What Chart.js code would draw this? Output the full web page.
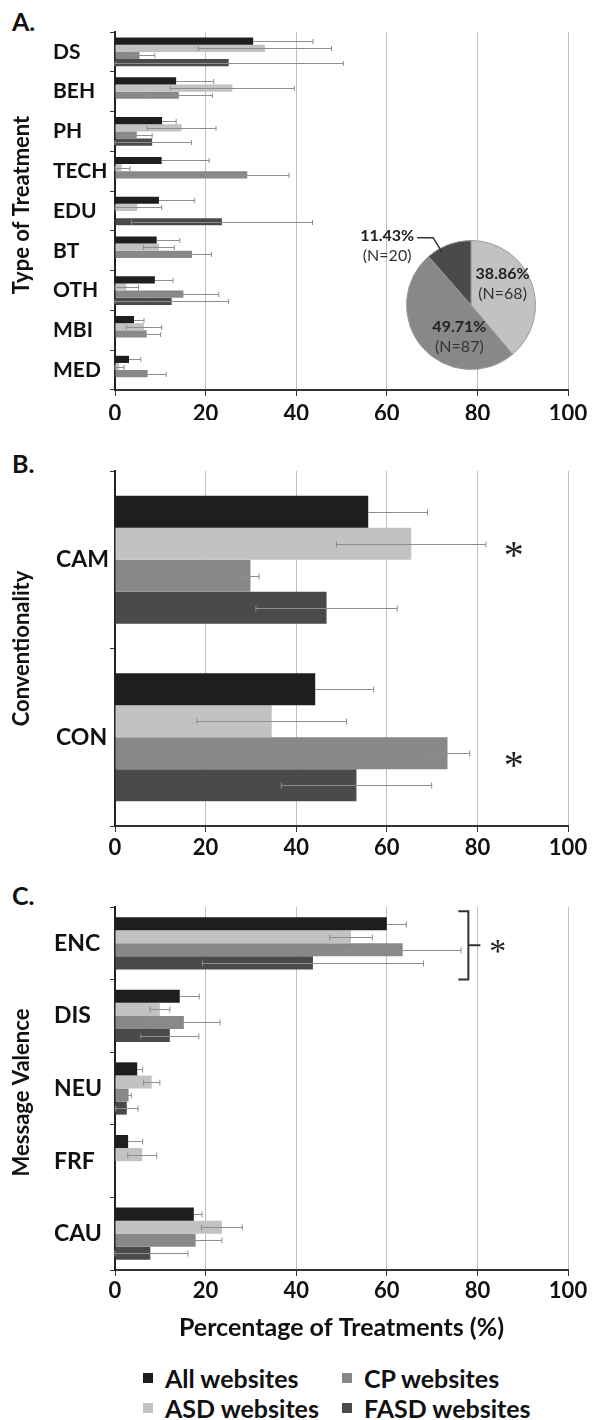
<!DOCTYPE html>
<html>
<head>
<meta charset="utf-8">
<script src="https://cdn.jsdelivr.net/npm/chart.js@4.4.1/dist/chart.umd.min.js"></script>
<style>
  body { margin: 0; background: #fff; width: 600px; height: 1420px; position: relative; overflow: hidden; font-family: Lato, sans-serif; color: #111; }
  .box { position: absolute; left: 0; width: 600px; }
  .letter { position: absolute; left: 12px; font-weight: bold; font-size: 25px; line-height: 1; }
  #legend { position: absolute; left: 143px; top: 1363px; display: grid; grid-template-rows: 30px 30px; grid-auto-flow: column; grid-auto-columns: 199px; font-weight: bold; font-size: 25px; }
  #legend div { display: flex; align-items: center; white-space: nowrap; }
  #legend span { display: inline-block; width: 10px; height: 10px; margin-right: 12px; }
</style>
</head>
<body>
<div class="letter" style="top:9px">A.</div>
<div class="letter" style="top:451px">B.</div>
<div class="letter" style="top:883px">C.</div>

<div class="box" style="top:0;height:440px"><canvas id="chartA"></canvas></div>
<div class="box" style="top:440px;height:420px"><canvas id="chartB"></canvas></div>
<div class="box" style="top:860px;height:500px"><canvas id="chartC"></canvas></div>
<div style="position:absolute;left:340px;top:215px;width:220px;height:180px"><canvas id="pieA"></canvas></div>
<div id="legend"></div>

<script>
// series
const seriesNames = ['All websites', 'ASD websites', 'CP websites', 'FASD websites'];
const seriesColors = ['#1e1e1e', '#c2c2c2', '#888888', '#4a4a4a'];

// panel A - type of treatment
const treatTypes = ['DS', 'BEH', 'PH', 'TECH', 'EDU', 'BT', 'OTH', 'MBI', 'MED'];
const treatAll = [30.5, 13.5, 10.4, 10.3, 9.7, 9.2, 8.8, 4.2, 3.1];
const treatAsd = [33.1, 25.9, 14.7, 1.5, 4.9, 9.7, 2.5, 6.4, 0.9];
const treatCp = [5.4, 14.1, 4.8, 29.2, 0, 17.0, 15.1, 7.0, 7.2];
const treatFasd = [25.1, 0, 8.2, 0, 23.6, 0, 12.5, 0, 0];
const treatAllErr = [13.2, 8.3, 3.1, 10.5, 7.9, 5.1, 4.0, 2.2, 2.6];
const treatAsdErr = [14.7, 13.7, 7.6, 1.8, 5.4, 3.4, 2.7, 3.9, 1.1];
const treatCpErr = [3.4, 7.4, 3.4, 9.2, 0, 4.3, 7.8, 3.1, 4.1];
const treatFasdErr = [25.3, 0, 8.7, 0, 20.0, 0, 12.6, 0, 0];

// panel A inset pie - websites by condition
const pieLabels = ['ASD websites', 'CP websites', 'FASD websites'];
const piePct = [38.86, 49.71, 11.43];
const pieN = [68, 87, 20];

// panel B - conventionality
const convTypes = ['CAM', 'CON'];
const convAll = [55.9, 44.2];
const convAsd = [65.4, 34.6];
const convCp = [29.9, 73.4];
const convFasd = [46.7, 53.3];
const convAllErr = [13.1, 12.9];
const convAsdErr = [16.5, 16.5];
const convCpErr = [1.9, 4.9];
const convFasdErr = [15.6, 16.6];

// panel C - message valence
const valTypes = ['ENC', 'DIS', 'NEU', 'FRF', 'CAU'];
const valAll = [60.0, 14.3, 4.9, 2.9, 17.4];
const valAsd = [52.1, 9.9, 8.1, 6.0, 23.6];
const valCp = [63.5, 15.2, 3.0, 0, 17.8];
const valFasd = [43.7, 12.1, 2.6, 0, 7.8];
const valAllErr = [4.3, 4.3, 1.2, 3.2, 1.8];
const valAsdErr = [4.7, 2.2, 1.8, 3.2, 4.5];
const valCpErr = [12.9, 8.0, 0.6, 0, 5.8];
const valFasdErr = [24.4, 6.4, 2.5, 0, 8.3];

const xTicks = [0, 20, 40, 60, 80, 100];

Chart.defaults.font.family = 'Lato';
Chart.defaults.color = '#111';

// draws error bars from each dataset's "errors" array
const errorBars = {
    id: 'errorBars',
    afterDatasetsDraw(chart, args, opts) {
        const ctx = chart.ctx;
        const xs = chart.scales.x;
        const cap = opts.cap || 3;
        ctx.save();
        ctx.strokeStyle = '#8e8e8e';
        ctx.lineWidth = 1;
        chart.data.datasets.forEach((ds, i) => {
            if (!ds.errors) return;
            chart.getDatasetMeta(i).data.forEach((bar, j) => {
                const v = ds.data[j];
                const e = ds.errors[j];
                if (!v || !e) return;
                const lo = ds.plusOnly ? v : Math.max(v - e, 0);
                const x0 = xs.getPixelForValue(lo);
                const x1 = xs.getPixelForValue(v + e);
                const y = Math.round(bar.y) + 0.5;
                ctx.beginPath();
                ctx.moveTo(x0, y);
                ctx.lineTo(x1, y);
                ctx.moveTo(x1, y - cap);
                ctx.lineTo(x1, y + cap);
                if (!ds.plusOnly) {
                    ctx.moveTo(x0, y - cap);
                    ctx.lineTo(x0, y + cap);
                }
                ctx.stroke();
            });
        });
        ctx.restore();
    }
};

// rotated axis title at the left edge
const sideTitle = {
    id: 'sideTitle',
    afterDraw(chart, args, opts) {
        if (!opts.text) return;
        const ctx = chart.ctx;
        const a = chart.chartArea;
        ctx.save();
        ctx.translate(opts.x, (a.top + a.bottom) / 2 + (opts.shift || 0));
        ctx.rotate(-Math.PI / 2);
        ctx.font = 'bold ' + opts.size + 'px Lato';
        ctx.fillStyle = '#111';
        ctx.textAlign = 'center';
        ctx.textBaseline = 'middle';
        ctx.fillText(opts.text, 0, 0);
        ctx.restore();
    }
};

// significance asterisks / bracket
const signif = {
    id: 'signif',
    afterDraw(chart, args, opts) {
        if (!opts.marks) return;
        const ctx = chart.ctx;
        const xs = chart.scales.x;
        ctx.save();
        ctx.fillStyle = '#222';
        ctx.strokeStyle = '#333';
        ctx.textAlign = 'center';
        ctx.textBaseline = 'middle';
        opts.marks.forEach(m => {
            if (m.bracket) {
                const bars = chart.data.datasets.map((d, i) => chart.getDatasetMeta(i).data[m.index]);
                const top = bars[0].y - bars[0].height / 2 - 6;
                const bot = bars[bars.length - 1].y + bars[bars.length - 1].height / 2 + 10;
                const bx = xs.getPixelForValue(m.bracket);
                const mid = (top + bot) / 2;
                ctx.lineWidth = 2;
                ctx.beginPath();
                ctx.moveTo(bx - 10, top);
                ctx.lineTo(bx, top);
                ctx.lineTo(bx, bot);
                ctx.lineTo(bx - 10, bot);
                ctx.moveTo(bx, mid);
                ctx.lineTo(bx + 12, mid);
                ctx.stroke();
                ctx.font = '34px "Liberation Serif"';
                ctx.fillText('*', xs.getPixelForValue(m.x), mid + 8);
            } else {
                const bar = chart.getDatasetMeta(m.series).data[m.index];
                ctx.font = '40px "Liberation Serif"';
                ctx.fillText('*', xs.getPixelForValue(m.x), bar.y + 14);
            }
        });
        ctx.restore();
    }
};

function makeDatasets(vals, errs) {
    return vals.map((v, i) => ({
        label: seriesNames[i],
        data: v,
        errors: errs[i],
        plusOnly: i === 0,
        backgroundColor: seriesColors[i],
        borderWidth: 0,
        categoryPercentage: 0.72,
        barPercentage: 1.0
    }));
}

function barOptions(cfg) {
    return {
        indexAxis: 'y',
        responsive: true,
        maintainAspectRatio: false,
        animation: false,
        layout: { padding: cfg.padding },
        plugins: {
            legend: { display: false },
            tooltip: { enabled: false },
            errorBars: { cap: cfg.cap },
            sideTitle: { text: cfg.yTitle, x: 22, size: 22, shift: cfg.titleShift || 0 },
            signif: { marks: cfg.marks }
        },
        scales: {
            x: {
                min: 0,
                max: 100,
                afterBuildTicks(scale) { scale.ticks = xTicks.map(v => ({ value: v })); },
                afterFit(scale) { scale.height = cfg.xHeight; },
                grid: { color: '#c0c0c0', tickColor: '#333', tickLength: 6 },
                border: { color: '#333', width: 2 },
                ticks: { font: { size: 22, weight: 'bold' }, color: '#111', padding: cfg.tickPad, maxRotation: 0 },
                title: cfg.xTitle ? {
                    display: true,
                    text: cfg.xTitle,
                    font: { size: 25, weight: 'bold' },
                    color: '#111',
                    padding: { top: 6, bottom: 7 }
                } : { display: false }
            },
            y: {
                afterFit(scale) { scale.width = 115 - cfg.padding.left; },
                grid: { drawOnChartArea: false, color: '#333', tickLength: 5, offset: true },
                border: { color: '#222', width: 2 },
                ticks: { font: { size: cfg.labelSize, weight: 'bold' }, color: '#111', crossAlign: 'far', padding: 4 }
            }
        }
    };
}

new Chart(document.getElementById('chartA'), {
    type: 'bar',
    data: {
        labels: treatTypes,
        datasets: makeDatasets([treatAll, treatAsd, treatCp, treatFasd],
            [treatAllErr, treatAsdErr, treatCpErr, treatFasdErr])
    },
    options: barOptions({
        padding: { top: 32, bottom: 20, left: 53, right: 32 },
        xHeight: 30, labelSize: 21, cap: 2.5, tickPad: 5,
        yTitle: 'Type of Treatment', titleShift: -6
    }),
    plugins: [errorBars, sideTitle, signif]
});

new Chart(document.getElementById('chartB'), {
    type: 'bar',
    data: {
        labels: convTypes,
        datasets: makeDatasets([convAll, convAsd, convCp, convFasd],
            [convAllErr, convAsdErr, convCpErr, convFasdErr])
    },
    options: barOptions({
        padding: { top: 31, bottom: 4, left: 56, right: 32 },
        xHeight: 30, labelSize: 23, cap: 3, tickPad: 3,
        yTitle: 'Conventionality',
        marks: [{ series: 1, index: 0, x: 88 }, { series: 2, index: 1, x: 88 }]
    }),
    plugins: [errorBars, sideTitle, signif]
});

new Chart(document.getElementById('chartC'), {
    type: 'bar',
    data: {
        labels: valTypes,
        datasets: makeDatasets([valAll, valAsd, valCp, valFasd],
            [valAllErr, valAsdErr, valCpErr, valFasdErr])
    },
    options: barOptions({
        padding: { top: 47, bottom: 10, left: 54, right: 32 },
        xHeight: 80, labelSize: 23, cap: 3, tickPad: 2,
        yTitle: 'Message Valence', titleShift: 4,
        xTitle: 'Percentage of Treatments (%)',
        marks: [{ index: 0, bracket: 78, x: 84.5 }]
    }),
    plugins: [errorBars, sideTitle, signif]
});

// labels of the inset pie, positions relative to the pie centre in radius units
const pieText = {
    id: 'pieText',
    afterDraw(chart, args, opts) {
        const ctx = chart.ctx;
        const arcs = chart.getDatasetMeta(0).data;
        ctx.save();
        ctx.textAlign = 'center';
        ctx.textBaseline = 'middle';
        arcs.forEach((arc, i) => {
            const r = arc.outerRadius;
            const p = opts.pos[i];
            const cx = arc.x + p[0] * r;
            const cy = arc.y + p[1] * r;
            ctx.fillStyle = '#222';
            ctx.font = 'bold 16px Lato';
            const top = piePct[i].toFixed(2) + '%';
            ctx.fillText(top, cx, cy - 10);
            ctx.fillStyle = '#333';
            ctx.font = '16px Lato';
            ctx.fillText('(N=' + pieN[i] + ')', cx, cy + 10);
            if (p[2]) {
                const a = arc.startAngle + 0.3 * (arc.endAngle - arc.startAngle);
                const sx = cx + 30;
                ctx.strokeStyle = '#333';
                ctx.lineWidth = 1.5;
                ctx.beginPath();
                ctx.moveTo(sx, cy - 8);
                ctx.lineTo(sx + 16, cy - 8);
                ctx.lineTo(arc.x + Math.cos(a) * r * 0.93, arc.y + Math.sin(a) * r * 0.93);
                ctx.stroke();
            }
        });
        ctx.restore();
    }
};

new Chart(document.getElementById('pieA'), {
    type: 'pie',
    data: {
        labels: pieLabels,
        datasets: [{
            data: piePct,
            backgroundColor: seriesColors.slice(1),
            borderColor: '#9a9a9a',
            borderWidth: 1
        }]
    },
    options: {
        responsive: true,
        maintainAspectRatio: false,
        animation: false,
        layout: { padding: { left: 66, right: 24, top: 25, bottom: 25 } },
        plugins: {
            legend: { display: false },
            tooltip: { enabled: false },
            pieText: { pos: [[0.49, -0.33], [-0.18, 0.5], [-1.3, -0.92, true]] }
        }
    },
    plugins: [pieText]
});

// legend, column-wise like the original
const legend = document.getElementById('legend');
seriesNames.forEach((name, i) => {
    const item = document.createElement('div');
    const sw = document.createElement('span');
    sw.style.background = seriesColors[i];
    item.appendChild(sw);
    item.appendChild(document.createTextNode(name));
    legend.appendChild(item);
});
</script>
</body>
</html>
